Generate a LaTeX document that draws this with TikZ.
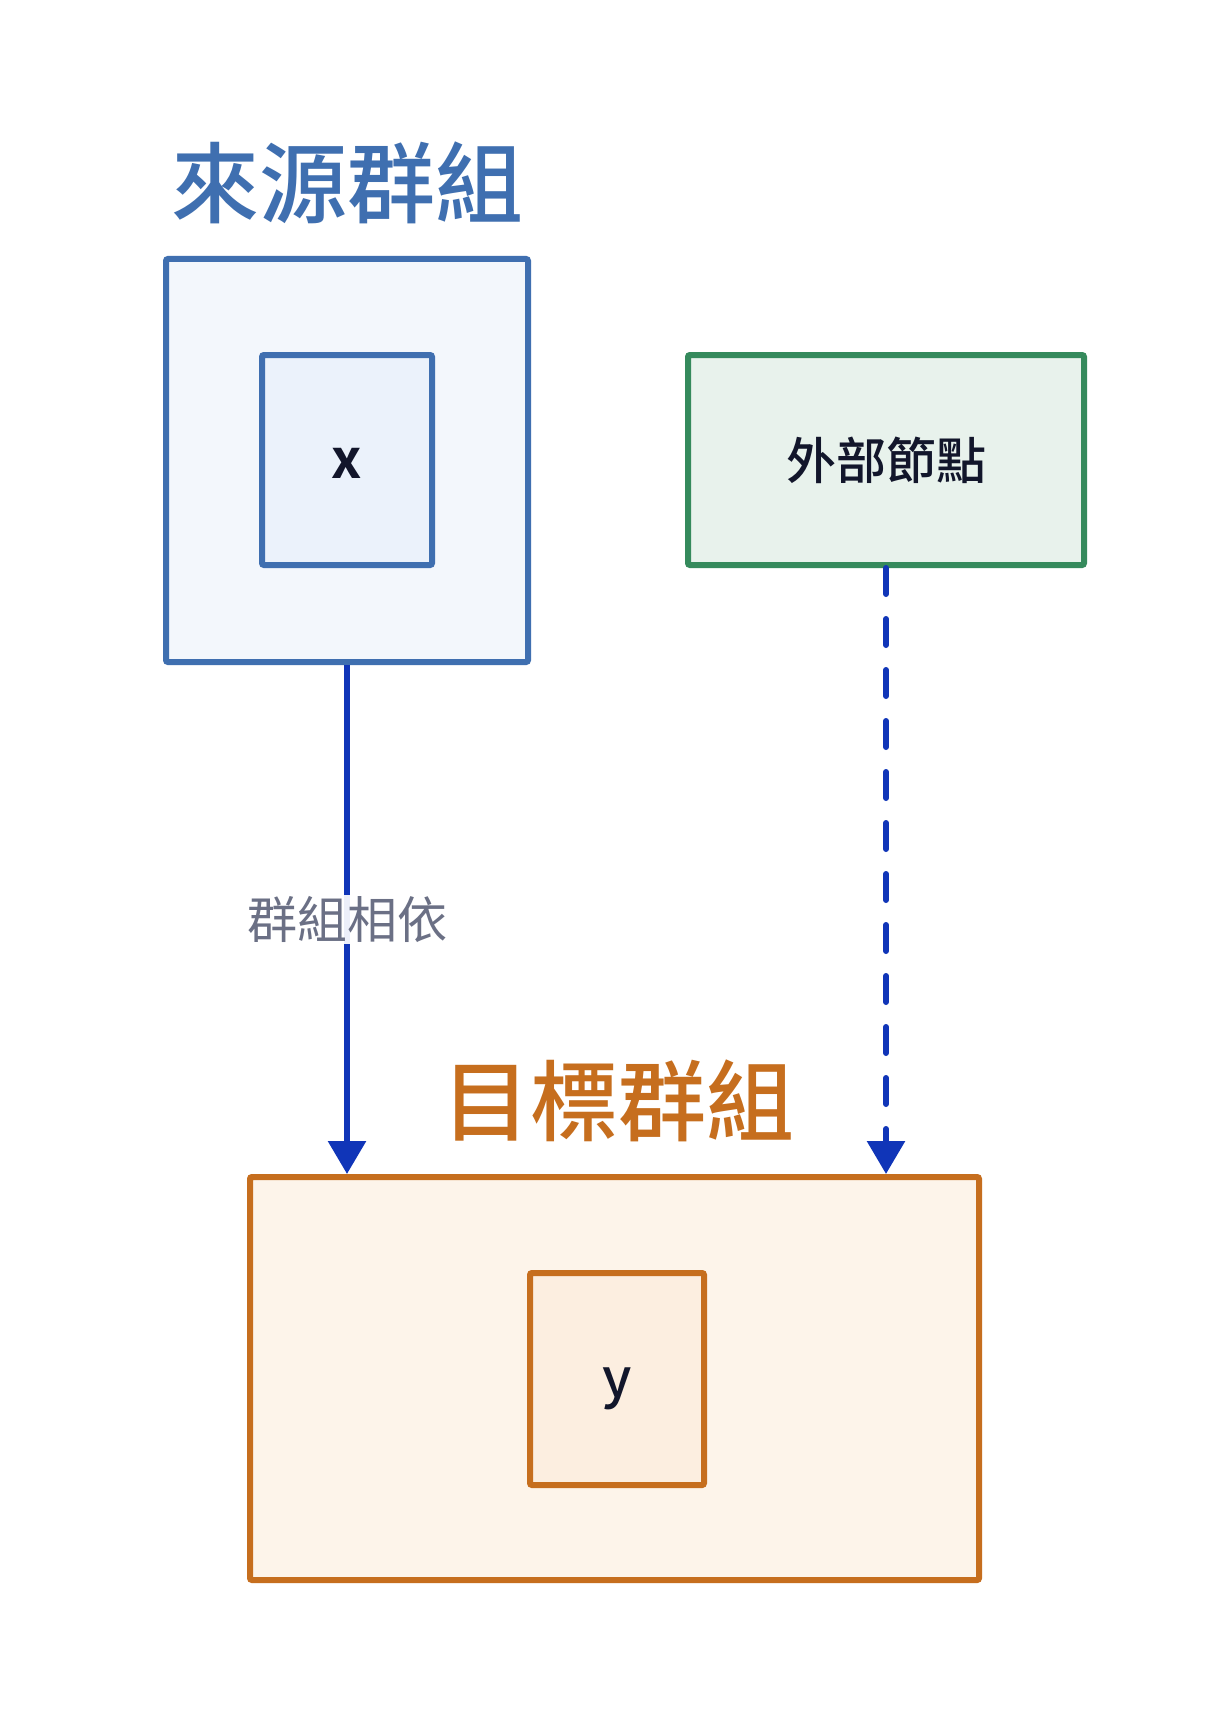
\documentclass[tikz,border=0pt]{standalone}
\usepackage{fontspec}
\setmainfont{Noto Sans CJK TC}
\newfontfamily\cjkbold{Noto Sans CJK TC}[UprightFont={* Bold}]
\newfontfamily\cjkmedium{Noto Sans CJK TC}[UprightFont={* Medium}]
\usetikzlibrary{arrows.meta}
\definecolor{srcblue}{HTML}{3F6FB0}
\definecolor{srcfill}{HTML}{F3F7FC}
\definecolor{srcin}{HTML}{EBF2FB}
\definecolor{tgtorange}{HTML}{C66E1E}
\definecolor{tgtfill}{HTML}{FDF4EA}
\definecolor{tgtin}{HTML}{FCEEE0}
\definecolor{extgreen}{HTML}{358A5C}
\definecolor{extfill}{HTML}{E8F2EC}
\definecolor{arrowblue}{HTML}{1035B8}
\definecolor{labelgray}{HTML}{6B7085}
\definecolor{darktext}{HTML}{12162B}
\tikzset{
  groupbox/.style={draw, line width=6pt, rounded corners=2pt, inner sep=0pt},
  grouptitle/.style={font=\fontsize{88}{100}\selectfont\cjkmedium, inner sep=0pt},
  nodebox/.style={draw, line width=6pt, rounded corners=2pt, inner sep=0pt, text=darktext},
  dep/.style={draw=arrowblue, line width=6pt, -{Triangle[width=37pt,length=33pt]}},
}
\begin{document}
\begin{tikzpicture}[x=1pt,y=-1pt]
\useasboundingbox[fill=white] (0,0) rectangle (1216,1712);
% source group
\node[groupbox, draw=srcblue, fill=srcfill, minimum width=362pt, minimum height=403pt] (src) at (347,460.5) {};
\node[grouptitle, text=srcblue] (srctitle) at (347,183) {來源群組};
\node[nodebox, draw=srcblue, fill=srcin, minimum width=170pt, minimum height=210pt, text height=48pt, text depth=12pt, font=\fontsize{54}{60}\selectfont\cjkbold] (x) at (347,460) {x};
% external node
\node[nodebox, draw=extgreen, fill=extfill, minimum width=396pt, minimum height=210pt, font=\fontsize{50}{60}\selectfont\cjkmedium] (ext) at (886,460) {外部節點};
% target group
\node[groupbox, draw=tgtorange, fill=tgtfill, minimum width=729pt, minimum height=403pt] (tgt) at (614.5,1378.5) {};
\node[grouptitle, text=tgtorange] (tgttitle) at (618,1101) {目標群組};
\node[nodebox, draw=tgtorange, fill=tgtin, minimum width=174pt, minimum height=212pt, text height=48pt, text depth=12pt, font=\fontsize{54}{60}\selectfont\cjkmedium] (y) at (617,1379) {y};
% connectors
\draw[dep] (src.south) -- (src.south |- tgt.north)
  node[pos=0.5, fill=white, fill opacity=0.92, text opacity=1, text=labelgray, inner sep=1pt, font=\fontsize{50}{60}\selectfont] (lbl) {群組相依};
\draw[dep, dash pattern=on 26pt off 25pt, line cap=round] (ext.south) -- (ext.south |- tgt.north);
\end{tikzpicture}
\end{document}
